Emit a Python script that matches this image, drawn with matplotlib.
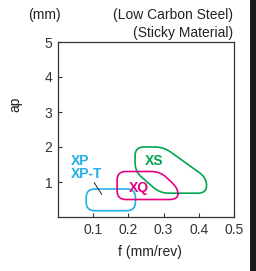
import matplotlib
matplotlib.use("Agg")
import matplotlib.pyplot as plt
from matplotlib.path import Path
from matplotlib.patches import PathPatch, Rectangle
import numpy as np

plt.rcParams['font.family'] = ['Liberation Sans', 'DejaVu Sans']

# Region data (f in mm/rev, ap in mm)
xp_f = [0.08, 0.08, 0.22, 0.22]
xp_ap = [0.18, 0.80, 0.80, 0.18]
xq_f = [0.168, 0.168, 0.29, 0.341, 0.341]
xq_ap = [0.50, 1.30, 1.30, 0.82, 0.50]
xs_f = [0.219, 0.219, 0.30, 0.422, 0.422, 0.29]
xs_ap = [1.30, 2.00, 2.00, 1.12, 0.68, 0.68]

x_ticks = [0.1, 0.2, 0.3, 0.4, 0.5]
y_ticks = [1, 2, 3, 4, 5]

c_blue = '#1fb0ea'
c_mag = '#e4007f'
c_green = '#00a550'

fig = plt.figure(figsize=(2.56, 2.71), dpi=100)
ax = fig.add_axes([58/256, 1-217/271, 176/256, 175/271])
ax.set_xlim(0, 0.5)
ax.set_ylim(0, 5)
ax.set_xticks(x_ticks)
ax.set_xticklabels([str(t) for t in x_ticks])
ax.set_yticks(y_ticks)
ax.tick_params(direction='in', length=3, width=0.8, labelsize=10, colors='#333333', pad=4)
for s in ax.spines.values():
    s.set_color('#333333')
    s.set_linewidth(0.9)

fig.canvas.draw()


def rounded(fs, aps, r=8.5):
    pts = ax.transData.transform(np.column_stack([fs, aps]))
    n = len(pts)
    verts, codes = [], []
    for i in range(n):
        p0 = pts[i - 1]
        p1 = pts[i]
        p2 = pts[(i + 1) % n]
        d0 = p0 - p1
        d2 = p2 - p1
        rr0 = min(r, np.linalg.norm(d0) / 2)
        rr2 = min(r, np.linalg.norm(d2) / 2)
        a = p1 + d0 / np.linalg.norm(d0) * rr0
        b = p1 + d2 / np.linalg.norm(d2) * rr2
        if i == 0:
            verts.append(a); codes.append(Path.MOVETO)
        else:
            verts.append(a); codes.append(Path.LINETO)
        verts += [p1, b]
        codes += [Path.CURVE3, Path.CURVE3]
    verts.append(verts[0]); codes.append(Path.CLOSEPOLY)
    return Path(verts, codes)


for fs, aps, c in [(xp_f, xp_ap, c_blue), (xs_f, xs_ap, c_green), (xq_f, xq_ap, c_mag)]:
    patch = PathPatch(rounded(fs, aps), facecolor='none', edgecolor=c, lw=1.2,
                      transform=None, clip_on=False)
    ax.add_artist(patch)

ax.text(0.037, 1.6, 'XP', color=c_blue, fontsize=10, fontweight='bold', va='center', ha='left')
ax.text(0.037, 1.22, 'XP-T', color=c_blue, fontsize=10, fontweight='bold', va='center', ha='left')
ax.plot([0.103, 0.124], [0.98, 0.65], color='#222222', lw=0.7)
ax.text(0.229, 0.83, 'XQ', color=c_mag, fontsize=10, fontweight='bold', va='center', ha='center')
ax.text(0.273, 1.61, 'XS', color=c_green, fontsize=10, fontweight='bold', va='center', ha='center')

fig.text(44/256, 1-15/271, '(mm)', fontsize=10, ha='center', va='center', color='#222222')
fig.text(233/256, 1-15/271, '(Low Carbon Steel)', fontsize=10, ha='right', va='center', color='#222222')
fig.text(233/256, 1-33/271, '(Sticky Material)', fontsize=10, ha='right', va='center', color='#222222')
fig.text(15/256, 1-104/271, 'ap', fontsize=10, rotation=90, ha='center', va='center', color='#222222')
fig.text(150/256, 1-252/271, 'f (mm/rev)', fontsize=10, ha='center', va='center', color='#222222')

fig.patches.append(Rectangle((249.5/256, 0), 6.5/256, 1, transform=fig.transFigure,
                             facecolor='#1a1a1a', edgecolor='none'))

fig.savefig('out.png', dpi=100)
